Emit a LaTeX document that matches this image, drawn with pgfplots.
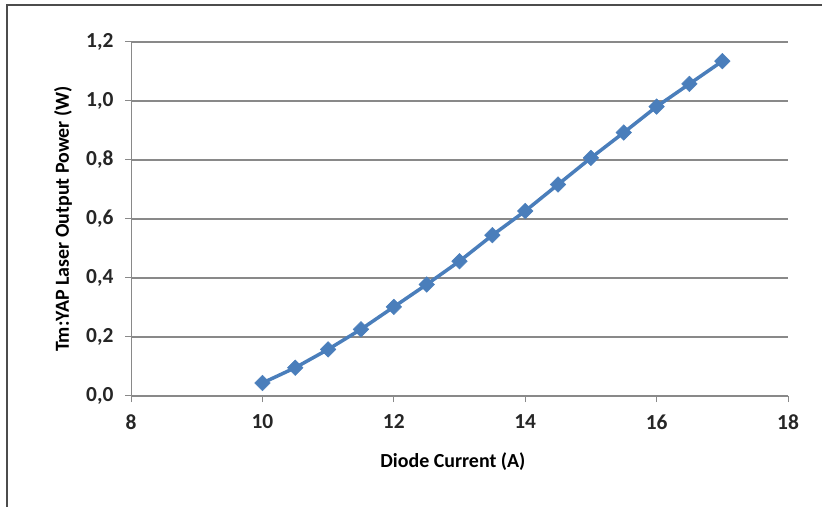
\documentclass[border=0pt]{standalone}
\usepackage{fontspec}
\setmainfont{Carlito}
\usepackage{pgfplots}
\pgfplotsset{compat=1.18}
\definecolor{xlblue}{HTML}{4A7EBB}
\definecolor{gridgray}{HTML}{898989}
\begin{document}
\begin{tikzpicture}
\useasboundingbox (0bp,0bp) rectangle (822bp,507bp);
\draw[line width=1.5bp, color=black!70] (7bp,0bp) -- (7bp,502bp) -- (822bp,502bp);
\begin{axis}[
  at={(131bp,111bp)}, anchor=south west,
  scale only axis, width=657bp, height=354bp,
  xmin=8, xmax=18, ymin=0, ymax=1.2,
  xtick={8,10,12,14,16,18},
  ytick={0,0.2,0.4,0.6,0.8,1.0,1.2},
  axis x line=bottom, axis y line=left,
  axis line style={-, gridgray, line width=1bp},
  tick style={gridgray, line width=1bp},
  tick align=outside, major tick length=6bp,
  ymajorgrids, major grid style={gridgray, line width=1.2bp},
  /pgf/number format/assume math mode=true,
  yticklabel style={xshift=-8bp, /pgf/number format/.cd, fixed, fixed zerofill, precision=1, use comma},
  xticklabel style={yshift=-9bp, /pgf/number format/.cd, fixed, precision=0},
  ticklabel style={font=\bfseries\fontsize{21.5}{26}\selectfont, text=black!85},
  xlabel={Diode Current (A)},
  ylabel={Tm:YAP Laser Output Power (W)},
  label style={font=\bfseries\fontsize{20}{24}\selectfont},
  xlabel style={at={(axis description cs:0.49,-0.186)}, anchor=center},
  ylabel style={at={(axis description cs:-0.1035,0.5)}, anchor=center},
]
\addplot[color=xlblue, line width=3.5bp, mark=square*, mark size=5.5bp,
  mark options={rotate=45, fill=xlblue, draw=xlblue, line width=0.5bp}]
  coordinates {
  (10,0.044) (10.5,0.096) (11,0.158) (11.5,0.226) (12,0.302) (12.5,0.378)
  (13,0.457) (13.5,0.545) (14,0.627) (14.5,0.717) (15,0.807) (15.5,0.893)
  (16,0.981) (16.5,1.058) (17,1.135)
  };
\end{axis}
\end{tikzpicture}
\end{document}
